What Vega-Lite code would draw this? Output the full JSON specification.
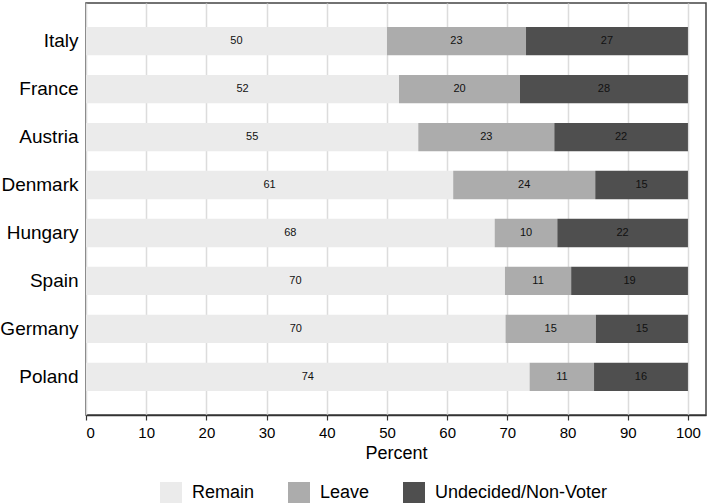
{
  "$schema": "https://vega.github.io/schema/vega-lite/v6.json",
  "autosize": "none",
  "padding": {"left": 86, "top": 3, "right": 3, "bottom": 88},
  "width": 620,
  "height": 412,
  "background": "white",
  "data": {"values": [
    {"country": "Italy", "response": "Remain", "rank": 1, "pct": 50.0},
    {"country": "Italy", "response": "Leave", "rank": 2, "pct": 23.1},
    {"country": "Italy", "response": "Undecided/Non-Voter", "rank": 3, "pct": 26.9},
    {"country": "France", "response": "Remain", "rank": 1, "pct": 52.0},
    {"country": "France", "response": "Leave", "rank": 2, "pct": 20.1},
    {"country": "France", "response": "Undecided/Non-Voter", "rank": 3, "pct": 27.9},
    {"country": "Austria", "response": "Remain", "rank": 1, "pct": 55.2},
    {"country": "Austria", "response": "Leave", "rank": 2, "pct": 22.6},
    {"country": "Austria", "response": "Undecided/Non-Voter", "rank": 3, "pct": 22.2},
    {"country": "Denmark", "response": "Remain", "rank": 1, "pct": 61.0},
    {"country": "Denmark", "response": "Leave", "rank": 2, "pct": 23.6},
    {"country": "Denmark", "response": "Undecided/Non-Voter", "rank": 3, "pct": 15.4},
    {"country": "Hungary", "response": "Remain", "rank": 1, "pct": 67.9},
    {"country": "Hungary", "response": "Leave", "rank": 2, "pct": 10.4},
    {"country": "Hungary", "response": "Undecided/Non-Voter", "rank": 3, "pct": 21.7},
    {"country": "Spain", "response": "Remain", "rank": 1, "pct": 69.6},
    {"country": "Spain", "response": "Leave", "rank": 2, "pct": 11.0},
    {"country": "Spain", "response": "Undecided/Non-Voter", "rank": 3, "pct": 19.4},
    {"country": "Germany", "response": "Remain", "rank": 1, "pct": 69.7},
    {"country": "Germany", "response": "Leave", "rank": 2, "pct": 15.0},
    {"country": "Germany", "response": "Undecided/Non-Voter", "rank": 3, "pct": 15.3},
    {"country": "Poland", "response": "Remain", "rank": 1, "pct": 73.7},
    {"country": "Poland", "response": "Leave", "rank": 2, "pct": 10.7},
    {"country": "Poland", "response": "Undecided/Non-Voter", "rank": 3, "pct": 15.6}
  ]},
  "encoding": {
    "y": {"field": "country", "type": "nominal", "sort": null,
          "scale": {"paddingInner": 0.41, "paddingOuter": 0.5},
          "axis": {"title": null, "ticks": false, "domain": false, "labelFontSize": 19,
                   "labelPadding": 8, "labelColor": "black"}},
    "x": {"field": "pct", "type": "quantitative", "stack": "zero",
          "scale": {"domain": [0, 103], "nice": false},
          "axis": {"title": "Percent", "values": [0, 10, 20, 30, 40, 50, 60, 70, 80, 90, 100],
                   "grid": true, "gridColor": "#dcdcdc", "gridWidth": 1.5,
                   "domainColor": "#333", "domainWidth": 1.5, "tickColor": "#333", "tickWidth": 1.2,
                   "tickSize": 5, "labelFontSize": 15, "labelColor": "black", "labelPadding": 5,
                   "titleFontSize": 18, "titleFontWeight": "normal", "titleColor": "black", "titlePadding": 4}},
    "order": {"field": "rank", "type": "quantitative"}
  },
  "layer": [
    {"mark": {"type": "bar"},
     "encoding": {
       "color": {"field": "response", "type": "nominal",
                 "scale": {"domain": ["Remain", "Leave", "Undecided/Non-Voter"],
                           "range": ["#ebebeb", "#acacac", "#4f4f4f"]},
                 "legend": {"title": null, "orient": "none", "direction": "horizontal",
                            "legendX": 74, "legendY": 479,
                            "symbolType": "square", "symbolSize": 484, "symbolStrokeWidth": 0,
                            "symbolOpacity": 1, "labelFontSize": 18, "labelColor": "black",
                            "labelLimit": 0, "labelOffset": 10, "columnPadding": 33}}
     }},
    {"mark": {"type": "text", "fontSize": 11, "color": "#111", "baseline": "middle"},
     "encoding": {
       "x": {"field": "pct", "type": "quantitative", "stack": "zero", "bandPosition": 0.5},
       "detail": {"field": "response"},
       "text": {"field": "pct", "type": "quantitative", "format": ".0f"}
     }}
  ],
  "config": {
    "font": "Liberation Sans",
    "view": {"stroke": "#444", "strokeWidth": 1.5}
  }
}
